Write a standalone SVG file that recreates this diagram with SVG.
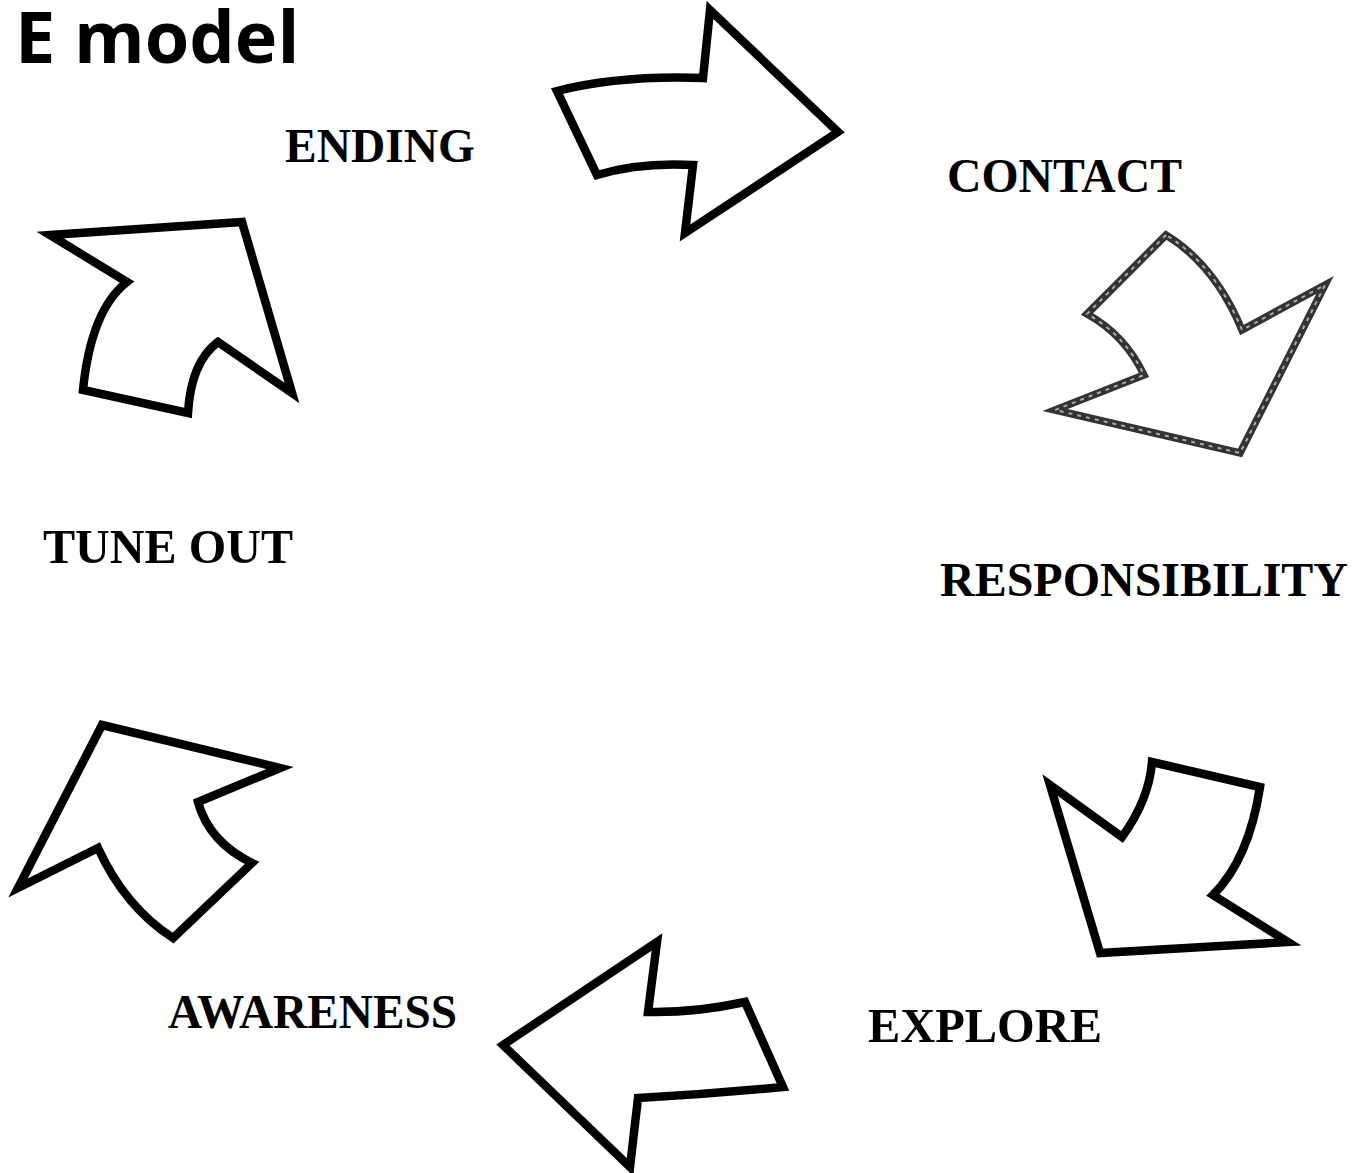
<svg xmlns="http://www.w3.org/2000/svg" width="1357" height="1173" viewBox="0 0 1357 1173">
<style>
.arrow{fill:#fff;stroke:#000;stroke-width:8.5;stroke-linejoin:miter;stroke-miterlimit:10}
.grey{fill:#fff;stroke:#333;stroke-width:7.5;stroke-linejoin:miter;stroke-miterlimit:10}
.tex{fill:none;stroke:#aaa;stroke-width:2;stroke-dasharray:4 5}
.lbl{font-family:"Liberation Serif","Times New Roman",serif;font-weight:bold;font-size:48px;fill:#000}
.title{font-family:"Open Sans","Noto Sans",sans-serif;font-weight:bold;font-size:72px;fill:#000}
</style>
<rect width="1357" height="1173" fill="#fff"/>
<text class="title" x="15" y="63">E model</text>
<g id="connectors">
<g id="arrow-ending-contact">
<path class="arrow" d="M557,91 Q620,75 703,78 L710,10 L838,132 L685,233 L693,165 Q640,162 597,175 Z"/>
</g>
<g id="arrow-contact-responsibility">
<path class="grey" d="M1166,235 L1087,314 Q1125,335 1144,375 L1055,410 L1240,453 L1325,285 L1242,330 Q1215,265 1166,235 Z"/>
<path class="tex" d="M1166,235 L1087,314 Q1125,335 1144,375 L1055,410 L1240,453 L1325,285 L1242,330 Q1215,265 1166,235 Z"/>
</g>
<g id="arrow-responsibility-explore">
<path class="arrow" d="M1050,785 L1122,837 Q1149,800 1152,762 L1260,787 Q1249,859 1213,895 L1288,942 L1100,953 Z"/>
</g>
<g id="arrow-explore-awareness">
<path class="arrow" d="M657,942 L648,1012 Q694,1013 745,1002 L783,1087 Q711,1094 638,1098 L630,1167 L503,1045 Z"/>
</g>
<g id="arrow-awareness-tuneout">
<path class="arrow" d="M102,725 L280,768 L198,802 Q209,842 252,863 L173,938 Q125,907 98,848 L18,888 Z"/>
</g>
<g id="arrow-tuneout-ending">
<path class="arrow" d="M50,235 L242,222 L292,393 L218,342 Q191,362 188,413 L83,390 Q91,310 127,282 Z"/>
</g>
</g>
<g id="node-ending"><text class="lbl" x="285" y="162" textLength="190" lengthAdjust="spacingAndGlyphs">ENDING</text></g>
<g id="node-contact"><text class="lbl" x="947" y="192" textLength="235" lengthAdjust="spacingAndGlyphs">CONTACT</text></g>
<g id="node-responsibility"><text class="lbl" x="940" y="596" textLength="408" lengthAdjust="spacingAndGlyphs">RESPONSIBILITY</text></g>
<g id="node-explore"><text class="lbl" x="868" y="1042" textLength="234" lengthAdjust="spacingAndGlyphs">EXPLORE</text></g>
<g id="node-awareness"><text class="lbl" x="168" y="1028" textLength="289" lengthAdjust="spacingAndGlyphs">AWARENESS</text></g>
<g id="node-tuneout"><text class="lbl" x="43" y="563" textLength="250" lengthAdjust="spacingAndGlyphs">TUNE OUT</text></g>
</svg>
